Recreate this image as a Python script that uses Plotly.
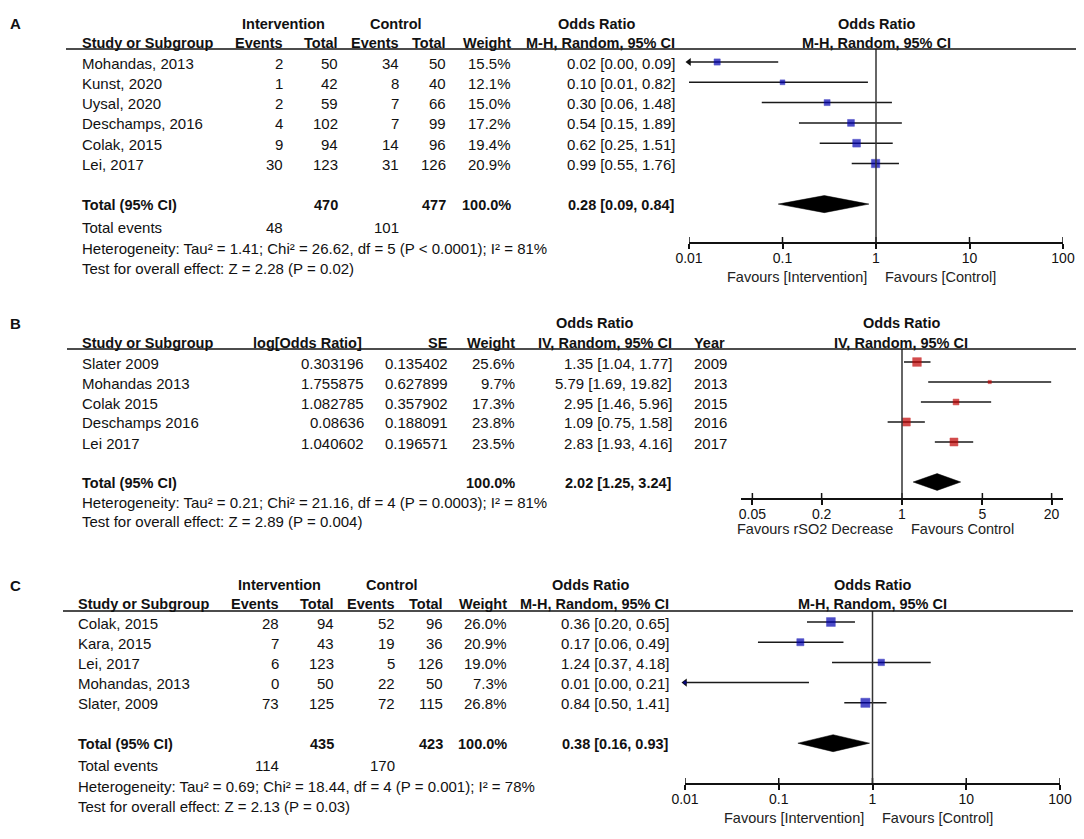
import math
import plotly.graph_objects as go

W, H = 1084, 839
PAGE_PAD = 8  # the page body adds an 8px margin around the figure
FONT = "Arial, Liberation Sans, sans-serif"
INK = "#111111"
BLUE = "#0000b0"
RED = "#c00000"

# ---------------- panel A data ----------------
a_study = ["Mohandas, 2013", "Kunst, 2020", "Uysal, 2020", "Deschamps, 2016", "Colak, 2015", "Lei, 2017"]
a_int_events = [2, 1, 2, 4, 9, 30]
a_int_total = [50, 42, 59, 102, 94, 123]
a_ctl_events = [34, 8, 7, 7, 14, 31]
a_ctl_total = [50, 40, 66, 99, 96, 126]
a_weight = [15.5, 12.1, 15.0, 17.2, 19.4, 20.9]
a_or = [0.02, 0.10, 0.30, 0.54, 0.62, 0.99]
a_lo = [0.00, 0.01, 0.06, 0.15, 0.25, 0.55]
a_hi = [0.09, 0.82, 1.48, 1.89, 1.51, 1.76]
a_sum_total = [470, 477]
a_sum_events = [48, 101]
a_pooled = [0.28, 0.09, 0.84]
a_het = "Heterogeneity: Tau² = 1.41; Chi² = 26.62, df = 5 (P < 0.0001); I² = 81%"
a_test = "Test for overall effect: Z = 2.28 (P = 0.02)"

# ---------------- panel B data ----------------
b_study = ["Slater 2009", "Mohandas 2013", "Colak 2015", "Deschamps 2016", "Lei 2017"]
b_logor = [0.303196, 1.755875, 1.082785, 0.08636, 1.040602]
b_se = [0.135402, 0.627899, 0.357902, 0.188091, 0.196571]
b_weight = [25.6, 9.7, 17.3, 23.8, 23.5]
b_or = [1.35, 5.79, 2.95, 1.09, 2.83]
b_lo = [1.04, 1.69, 1.46, 0.75, 1.93]
b_hi = [1.77, 19.82, 5.96, 1.58, 4.16]
b_year = [2009, 2013, 2015, 2016, 2017]
b_pooled = [2.02, 1.25, 3.24]
b_het = "Heterogeneity: Tau² = 0.21; Chi² = 21.16, df = 4 (P = 0.0003); I² = 81%"
b_test = "Test for overall effect: Z = 2.89 (P = 0.004)"

# ---------------- panel C data ----------------
c_study = ["Colak, 2015", "Kara, 2015", "Lei, 2017", "Mohandas, 2013", "Slater, 2009"]
c_int_events = [28, 7, 6, 0, 73]
c_int_total = [94, 43, 123, 50, 125]
c_ctl_events = [52, 19, 5, 22, 72]
c_ctl_total = [96, 36, 126, 50, 115]
c_weight = [26.0, 20.9, 19.0, 7.3, 26.8]
c_or = [0.36, 0.17, 1.24, 0.01, 0.84]
c_lo = [0.20, 0.06, 0.37, 0.00, 0.50]
c_hi = [0.65, 0.49, 4.18, 0.21, 1.41]
c_sum_total = [435, 423]
c_sum_events = [114, 170]
c_pooled = [0.38, 0.16, 0.93]
c_het = "Heterogeneity: Tau² = 0.69; Chi² = 18.44, df = 4 (P = 0.001); I² = 78%"
c_test = "Test for overall effect: Z = 2.13 (P = 0.03)"

mh_ticks = [0.01, 0.1, 1, 10, 100]
mh_ticktext = ["0.01", "0.1", "1", "10", "100"]
iv_ticks = [0.05, 0.2, 1, 5, 20]
iv_ticktext = ["0.05", "0.2", "1", "5", "20"]

# pixel geometry of each panel (layout only)
geo = {
    "A": dict(top=49, bottom=242, row0=62, step=20.3, h1=23, h2=42, total_row=7,
              x0=689, x1=1063, xrange=[-2, 2], rule=[66, 1077], fav=277, plot_c=876),
    "B": dict(top=349, bottom=498, row0=362, step=20.0, h1=322, h2=342, total_row=6,
              x0=741, x1=1063, xrange=[-1.4, 1.4], rule=[67, 1077], fav=529, plot_c=901),
    "C": dict(top=611, bottom=783, row0=622, step=20.2, h1=584, h2=603, total_row=6,
              x0=685, x1=1060, xrange=[-2, 2], rule=[63, 1073], fav=818, plot_c=872),
}

fig = go.Figure()


def px(x):
    return (x - PAGE_PAD) / W


def py(y):
    return 1 - (y - PAGE_PAD) / H


def text(x, y, s, anchor="left", bold=False, size=None, color=INK):
    if bold:
        s = f"<b>{s}</b>"
    if size is None:
        size = 14.5 if bold else 15
    fig.add_annotation(x=px(x), y=py(y + 1), xref="paper", yref="paper", text=s,
                       showarrow=False, xanchor=anchor, yanchor="middle",
                       font=dict(family=FONT, size=size, color=color))


def row_y(g, r):
    return g["row0"] + r * g["step"]


def ci(v, l, h):
    return f"{v:.2f} [{l:.2f}, {h:.2f}]"


def forest(n, g, est, lo, hi, weight, pooled, colour, k, ticks, ticktext, favours, heads):
    sfx = "" if n == 1 else str(n)
    xa, ya = "x" + sfx, "y" + sfx
    rows = list(range(len(est)))
    xmin = 10 ** g["xrange"][0]

    xs, ys = [], []
    for r, l, h in zip(rows, lo, hi):
        xs += [max(l, xmin), h, None]
        ys += [r, r, None]
    fig.add_trace(go.Scatter(x=xs, y=ys, mode="lines", line=dict(color="#1a1a1a", width=1.5),
                             xaxis=xa, yaxis=ya, hoverinfo="skip", showlegend=False))

    clipped = [r for r, l in zip(rows, lo) if l < xmin]
    if clipped:
        fig.add_trace(go.Scatter(x=[xmin] * len(clipped), y=clipped, mode="markers",
                                 marker=dict(symbol="triangle-left", size=7, color="#111111"),
                                 cliponaxis=False, xaxis=xa, yaxis=ya, showlegend=False))

    fig.add_trace(go.Scatter(x=est, y=rows, mode="markers",
                             marker=dict(symbol="square", size=[k * w for w in weight],
                                         color=colour, line=dict(width=0.5, color=colour)),
                             cliponaxis=False, xaxis=xa, yaxis=ya, showlegend=False))

    p, pl, ph = pooled
    t, d = g["total_row"], 0.42
    fig.add_trace(go.Scatter(x=[pl, p, ph, p, pl], y=[t, t - d, t, t + d, t], mode="lines",
                             fill="toself", fillcolor="black", line=dict(color="black", width=0.5),
                             xaxis=xa, yaxis=ya, hoverinfo="skip", showlegend=False))

    yt = (g["top"] - g["row0"]) / g["step"]
    yb = (g["bottom"] - g["row0"]) / g["step"]
    dom_px = g["bottom"] - g["top"]
    fig.update_layout(**{
        "xaxis" + sfx: dict(type="log", domain=[px(g["x0"]), px(g["x1"])], range=g["xrange"],
                            anchor=ya, tickmode="array", tickvals=ticks, ticktext=ticktext,
                            ticks="outside", ticklen=5, tickwidth=1.5, tickcolor="#111111",
                            ticklabelstandoff=-3,
                            showline=True, linecolor="#111111", linewidth=1.5,
                            showgrid=False, zeroline=False, fixedrange=True, automargin=False,
                            tickfont=dict(family=FONT, size=14, color=INK)),
        "yaxis" + sfx: dict(domain=[py(g["bottom"]), py(g["top"])], range=[yb, yt],
                            anchor=xa, visible=False, fixedrange=True, automargin=False),
    })
    # upper half of the tick marks (shape x on a log axis is given in data values)
    for tv in ticks:
        fig.add_shape(type="line", xref=xa, yref=ya + " domain", x0=tv, x1=tv,
                      y0=0, y1=5 / dom_px, line=dict(color="#111111", width=1.5))
    # line of no effect
    fig.add_shape(type="line", xref=xa, yref=ya + " domain", x0=1, x1=1, y0=0, y1=1,
                  line=dict(color="#333333", width=1.5))
    # header rule
    fig.add_shape(type="line", xref="paper", yref="paper", x0=px(g["rule"][0]), x1=px(g["rule"][1]),
                  y0=py(g["top"]), y1=py(g["top"]), line=dict(color="#111111", width=1.5))
    for s, anchor, shift in [(favours[0], "right", -7), (favours[1], "left", 7)]:
        fig.add_annotation(x=0, xref=xa, y=py(g["fav"]), yref="paper", text=s, showarrow=False,
                           xanchor=anchor, xshift=shift, yanchor="middle",
                           font=dict(family=FONT, size=14.5, color="#222222"))
    text(g["plot_c"], g["h1"], heads[0], "center", True)
    text(g["plot_c"], g["h2"], heads[1], "center", True)


# ---------------- panel A ----------------
gA = geo["A"]
text(8, gA["h1"], "A", bold=True, size=15)
text(283, gA["h1"], "Intervention", "center", True)
text(396, gA["h1"], "Control", "center", True)
text(596, gA["h1"], "Odds Ratio", "center", True)
text(80, gA["h2"], "Study or Subgroup", bold=True)
for x, s in [(285, "Events"), (340, "Total"), (401, "Events"), (448, "Total"),
             (513, "Weight"), (677, "M-H, Random, 95% CI")]:
    text(x, gA["h2"], s, "right", True)
for i in range(len(a_study)):
    y = row_y(gA, i)
    text(80, y, a_study[i])
    text(285, y, str(a_int_events[i]), "right")
    text(340, y, str(a_int_total[i]), "right")
    text(401, y, str(a_ctl_events[i]), "right")
    text(448, y, str(a_ctl_total[i]), "right")
    text(513, y, f"{a_weight[i]:.1f}%", "right")
    text(677, y, ci(a_or[i], a_lo[i], a_hi[i]), "right")
y = row_y(gA, gA["total_row"])
text(80, y, "Total (95% CI)", bold=True)
text(340, y, str(a_sum_total[0]), "right", True)
text(448, y, str(a_sum_total[1]), "right", True)
text(513, y, "100.0%", "right", True)
text(677, y, ci(*a_pooled), "right", True)
text(80, 226, "Total events")
text(285, 226, str(a_sum_events[0]), "right")
text(401, 226, str(a_sum_events[1]), "right")
text(80, 247, a_het)
text(80, 267, a_test)
forest(1, gA, a_or, a_lo, a_hi, a_weight, a_pooled, BLUE, 0.40, mh_ticks, mh_ticktext,
       ["Favours [Intervention]", "Favours [Control]"], ["Odds Ratio", "M-H, Random, 95% CI"])

# ---------------- panel B ----------------
gB = geo["B"]
text(8, gB["h1"], "B", bold=True, size=15)
text(594, gB["h1"], "Odds Ratio", "center", True)
text(80, gB["h2"], "Study or Subgroup", bold=True)
for x, s in [(364, "log[Odds Ratio]"), (450, "SE"), (517, "Weight"), (674, "IV, Random, 95% CI")]:
    text(x, gB["h2"], s, "right", True)
text(692, gB["h2"], "Year", bold=True)
for i in range(len(b_study)):
    y = row_y(gB, i)
    text(80, y, b_study[i])
    text(366, y, str(b_logor[i]), "right")
    text(450, y, str(b_se[i]), "right")
    text(517, y, f"{b_weight[i]:.1f}%", "right")
    text(674, y, ci(b_or[i], b_lo[i], b_hi[i]), "right")
    text(692, y, str(b_year[i]))
y = row_y(gB, gB["total_row"])
text(80, y, "Total (95% CI)", bold=True)
text(517, y, "100.0%", "right", True)
text(674, y, ci(*b_pooled), "right", True)
text(80, 501, b_het)
text(80, 520, b_test)
forest(2, gB, b_or, b_lo, b_hi, b_weight, b_pooled, RED, 0.34, iv_ticks, iv_ticktext,
       ["Favours rSO2 Decrease", "Favours Control"], ["Odds Ratio", "IV, Random, 95% CI"])

# ---------------- panel C ----------------
gC = geo["C"]
text(8, gC["h1"], "C", bold=True, size=15)
text(279, gC["h1"], "Intervention", "center", True)
text(392, gC["h1"], "Control", "center", True)
text(590, gC["h1"], "Odds Ratio", "center", True)
text(76, gC["h2"], "Study or Subgroup", bold=True)
for x, s in [(281, "Events"), (336, "Total"), (397, "Events"), (445, "Total"),
             (509, "Weight"), (671, "M-H, Random, 95% CI")]:
    text(x, gC["h2"], s, "right", True)
for i in range(len(c_study)):
    y = row_y(gC, i)
    text(76, y, c_study[i])
    text(281, y, str(c_int_events[i]), "right")
    text(336, y, str(c_int_total[i]), "right")
    text(397, y, str(c_ctl_events[i]), "right")
    text(445, y, str(c_ctl_total[i]), "right")
    text(509, y, f"{c_weight[i]:.1f}%", "right")
    text(671, y, ci(c_or[i], c_lo[i], c_hi[i]), "right")
y = row_y(gC, gC["total_row"])
text(76, y, "Total (95% CI)", bold=True)
text(336, y, str(c_sum_total[0]), "right", True)
text(445, y, str(c_sum_total[1]), "right", True)
text(509, y, "100.0%", "right", True)
text(671, y, ci(*c_pooled), "right", True)
text(76, 764, "Total events")
text(281, 764, str(c_sum_events[0]), "right")
text(397, 764, str(c_sum_events[1]), "right")
text(76, 785, c_het)
text(76, 805, c_test)
forest(3, gC, c_or, c_lo, c_hi, c_weight, c_pooled, BLUE, 0.34, mh_ticks, mh_ticktext,
       ["Favours [Intervention]", "Favours [Control]"], ["Odds Ratio", "M-H, Random, 95% CI"])

fig.update_layout(width=W, height=H, margin=dict(l=0, r=0, t=0, b=0, pad=0, autoexpand=False),
                  paper_bgcolor="white", plot_bgcolor="rgba(0,0,0,0)",
                  showlegend=False, font=dict(family=FONT, color=INK))

fig.write_html("out.html")
